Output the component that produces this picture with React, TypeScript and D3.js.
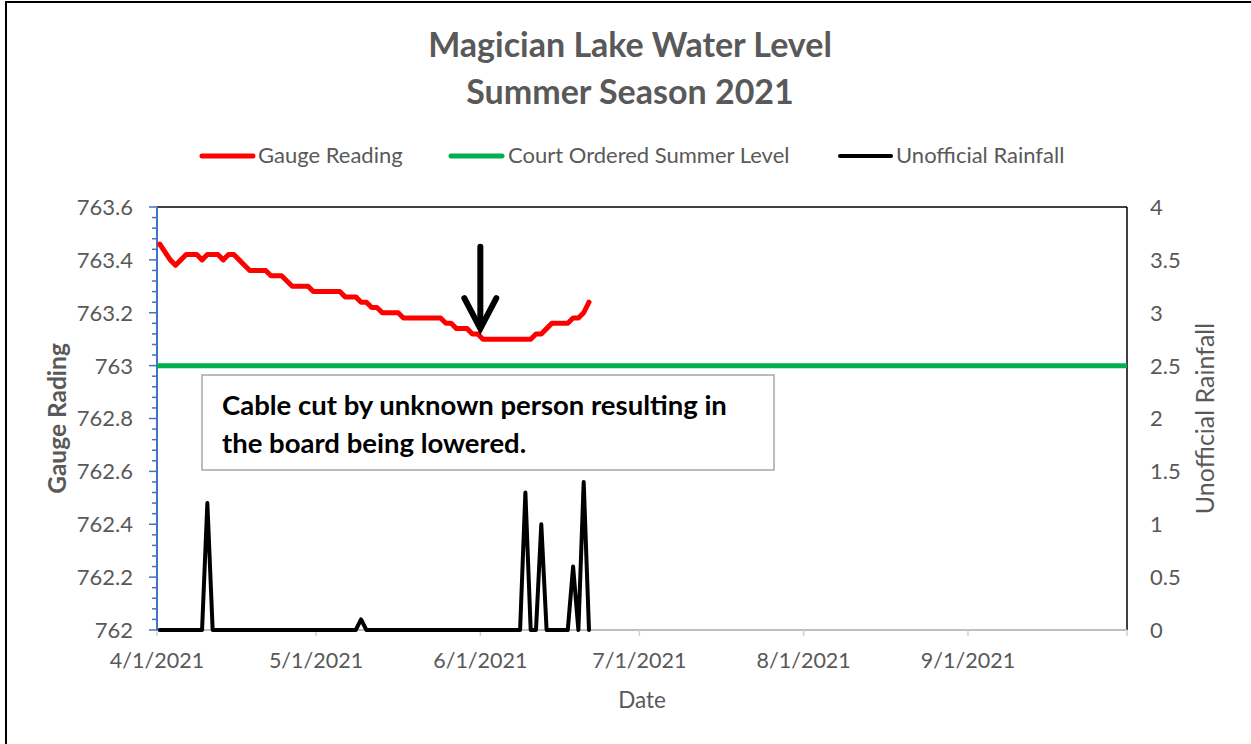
import React from 'react';
import * as d3 from 'd3';

// daily readings from 4/1/2021
const startDay = Date.UTC(2021, 3, 1);
const gaugeReading = [
  763.46, 763.43, 763.40, 763.38, 763.40, 763.42, 763.42, 763.42, 763.40, 763.42,
  763.42, 763.42, 763.40, 763.42, 763.42, 763.40, 763.38, 763.36, 763.36, 763.36,
  763.36, 763.34, 763.34, 763.34, 763.32, 763.30, 763.30, 763.30, 763.30, 763.28,
  763.28, 763.28, 763.28, 763.28, 763.28, 763.26, 763.26, 763.26, 763.24, 763.24,
  763.22, 763.22, 763.20, 763.20, 763.20, 763.20, 763.18, 763.18, 763.18, 763.18,
  763.18, 763.18, 763.18, 763.18, 763.16, 763.16, 763.14, 763.14, 763.14, 763.12,
  763.12, 763.10, 763.10, 763.10, 763.10, 763.10, 763.10, 763.10, 763.10, 763.10,
  763.10, 763.12, 763.12, 763.14, 763.16, 763.16, 763.16, 763.16, 763.18, 763.18,
  763.20, 763.24,
];
const rainfall = [
  0, 0, 0, 0, 0, 0, 0, 0, 0, 1.2,
  0, 0, 0, 0, 0, 0, 0, 0, 0, 0,
  0, 0, 0, 0, 0, 0, 0, 0, 0, 0,
  0, 0, 0, 0, 0, 0, 0, 0, 0.1, 0,
  0, 0, 0, 0, 0, 0, 0, 0, 0, 0,
  0, 0, 0, 0, 0, 0, 0, 0, 0, 0,
  0, 0, 0, 0, 0, 0, 0, 0, 0, 1.3,
  0, 0, 1.0, 0, 0, 0, 0, 0, 0.6, 0,
  1.4, 0,
];
const summerLevel = 763.0;
const leftTicks = [762, 762.2, 762.4, 762.6, 762.8, 763, 763.2, 763.4, 763.6];
const rightTicks = [0, 0.5, 1, 1.5, 2, 2.5, 3, 3.5, 4];
const monthTicks = [
  Date.UTC(2021, 3, 1), Date.UTC(2021, 4, 1), Date.UTC(2021, 5, 1),
  Date.UTC(2021, 6, 1), Date.UTC(2021, 7, 1), Date.UTC(2021, 8, 1), Date.UTC(2021, 9, 1),
];
const tickLabels = ['4/1/2021', '5/1/2021', '6/1/2021', '7/1/2021', '8/1/2021', '9/1/2021'];

const DAY = 86400000;
const font = 'Lato, "Open Sans", sans-serif';
const grey = '#595959';

export default function App() {
  const left = 157, right = 1127, top = 207, bottom = 630;

  const x = d3.scaleUtc()
    .domain([new Date(monthTicks[0]), new Date(monthTicks[monthTicks.length - 1])])
    .range([left, right]);
  const yL = d3.scaleLinear().domain([762, 763.6]).range([bottom, top]);
  const yR = d3.scaleLinear().domain([0, 4]).range([bottom, top]);

  // points sit in the middle of each day slot
  const dayX = (i: number) => x(new Date(startDay + i * DAY + DAY / 2));

  const gaugeLine = d3.line<number>().x((_, i) => dayX(i)).y(d => yL(d))(gaugeReading) || '';
  const rainLine = d3.line<number>().x((_, i) => dayX(i)).y(d => yR(d))(rainfall) || '';

  const minorTicks = d3.range(0, 41).map(i => 762 + i * 0.04);

  // arrow marking the cable cut
  const arrowX = x(new Date(Date.UTC(2021, 5, 1)));
  const arrowTop = yL(763.45);
  const arrowTip = yL(763.14);
  const headY = yL(763.255);

  return (
    <svg width={1251} height={744} style={{ position: 'absolute', left: 0, top: 0, background: '#fff' }}>
      <rect x={6} y={2} width={1260} height={760} fill="#fff" stroke="#000" strokeWidth={2} />

      <g fontFamily={font} fill={grey} textAnchor="middle" fontWeight="bold" fontSize={34}>
        <text x={630} y={57}>Magician Lake Water Level</text>
        <text x={630} y={104}>Summer Season 2021</text>
      </g>

      {/* legend */}
      <g fontFamily={font} fontSize={22} fill={grey}>
        <line x1={202} x2={253} y1={156} y2={156} stroke="#FF0000" strokeWidth={5} strokeLinecap="round" />
        <text x={258} y={163}>Gauge Reading</text>
        <line x1={451} x2={502} y1={156} y2={156} stroke="#00B050" strokeWidth={5} strokeLinecap="round" />
        <text x={508} y={163}>Court Ordered Summer Level</text>
        <line x1={840} x2={891} y1={156} y2={156} stroke="#000" strokeWidth={4} strokeLinecap="round" />
        <text x={896} y={163}>Unofficial Rainfall</text>
      </g>

      {/* plot frame */}
      <line x1={left} x2={right} y1={top} y2={top} stroke="#000" strokeWidth={1.5} />
      <line x1={right} x2={right} y1={top} y2={bottom} stroke="#000" strokeWidth={1.5} />
      <line x1={left} x2={right} y1={bottom} y2={bottom} stroke="#BFBFBF" strokeWidth={2} />
      {monthTicks.map(t => (
        <line key={t} x1={x(new Date(t))} x2={x(new Date(t))} y1={bottom} y2={bottom + 6} stroke="#D0D0D0" strokeWidth={1.5} />
      ))}

      {/* left axis */}
      <line x1={left} x2={left} y1={top} y2={bottom} stroke="#4472C4" strokeWidth={2} />
      {minorTicks.map((t, i) => (
        <line key={i} x1={i % 5 === 0 ? left - 8 : left - 5} x2={left} y1={yL(t)} y2={yL(t)} stroke="#4472C4" strokeWidth={1.5} />
      ))}
      <g fontFamily={font} fontSize={22} fill={grey} textAnchor="end">
        {leftTicks.map(t => (
          <text key={t} x={133} y={yL(t)} dy="0.36em">{d3.format('')(t)}</text>
        ))}
      </g>
      <g fontFamily={font} fontSize={22} fill={grey} textAnchor="start">
        {rightTicks.map(t => (
          <text key={t} x={1150} y={yR(t)} dy="0.36em">{t}</text>
        ))}
      </g>
      <g fontFamily={font} fontSize={21.5} fill={grey} textAnchor="middle">
        {tickLabels.map((l, i) => (
          <text key={l} x={x(new Date(monthTicks[i]))} y={668}>{l}</text>
        ))}
        <text x={642} y={708} fontSize={22.5}>Date</text>
      </g>
      <text transform={`translate(66,${(top + bottom) / 2}) rotate(-90)`} textAnchor="middle"
        fontFamily={font} fontSize={24.5} fontWeight="bold" fill={grey}>Gauge Rading</text>
      <text transform={`translate(1214,${(top + bottom) / 2}) rotate(-90)`} textAnchor="middle"
        fontFamily={font} fontSize={25} fill={grey}>Unofficial Rainfall</text>

      {/* series */}
      <line x1={left} x2={right} y1={yL(summerLevel)} y2={yL(summerLevel)} stroke="#00B050" strokeWidth={5} />
      <path d={gaugeLine} fill="none" stroke="#FF0000" strokeWidth={5} strokeLinejoin="round" strokeLinecap="round" />
      <path d={rainLine} fill="none" stroke="#000" strokeWidth={4} strokeLinejoin="round" strokeLinecap="round" />

      {/* annotation */}
      <rect x={202} y={375} width={572} height={95} fill="#fff" stroke="#A6A6A6" strokeWidth={1.5} />
      <g fontFamily={font} fontSize={27.5} fontWeight="bold" fill="#000">
        <text x={222} y={415}>Cable cut by unknown person resulting in</text>
        <text x={222} y={453}>the board being lowered.</text>
      </g>
      <g stroke="#000" strokeWidth={6} fill="none" strokeLinecap="round">
        <line x1={arrowX} x2={arrowX} y1={arrowTop} y2={arrowTip - 3} />
        <polyline points={`${arrowX - 16},${headY} ${arrowX},${arrowTip} ${arrowX + 16},${headY}`} strokeLinejoin="miter" />
      </g>
    </svg>
  );
}
